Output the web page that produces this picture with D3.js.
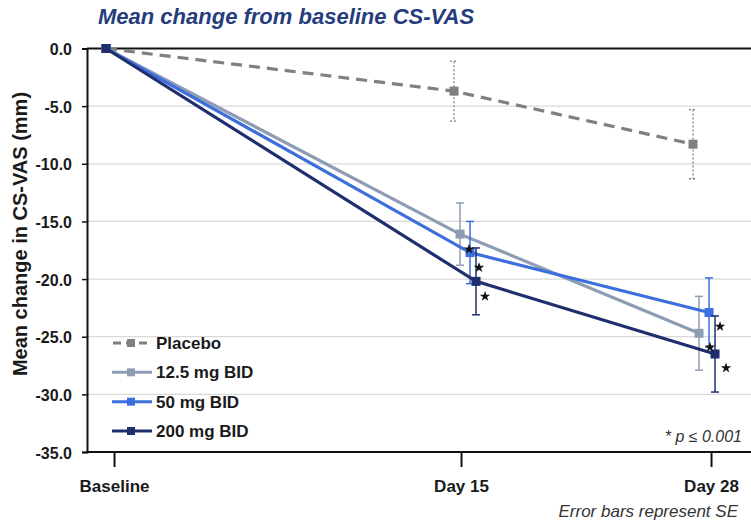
<!DOCTYPE html>
<html>
<head>
<meta charset="utf-8">
<script src="https://cdn.jsdelivr.net/npm/d3@7/dist/d3.min.js"></script>
<style>
  html, body { margin: 0; padding: 0; background: #fff; }
  svg { display: block; font-family: "Liberation Sans", Arial, sans-serif; }
  .ttl { font-size: 22px; font-weight: bold; font-style: italic; fill: #263d7c; }
  .ylab { font-size: 20px; font-weight: bold; fill: #1a1a1a; }
  .yax text { font-size: 16px; font-weight: bold; fill: #1a1a1a; }
  .xax text { font-size: 17px; font-weight: bold; fill: #1a1a1a; }
  .leg text { font-size: 17px; font-weight: bold; fill: #1a1a1a; }
  .note { font-size: 16px; font-style: italic; fill: #333; }
</style>
</head>
<body>
<div id="chart"></div>
<script>
const W = 751, H = 525;
const M = { top: 48.5, right: 0, bottom: 73, left: 87 };

// data
const VISITS = ["Baseline", "Day 15", "Day 28"];
const SERIES = ["Placebo", "12.5 mg BID", "50 mg BID", "200 mg BID"];
const PLACEBO = [0, -3.7, -8.3];
const PLACEBO_SE = [0, 2.6, 3.0];
const LOW = [0, -16.1, -24.7];
const LOW_SE = [0, 2.7, 3.2];
const MID = [0, -17.7, -22.9];
const MID_SE = [0, 2.7, 3.0];
const HIGH = [0, -20.2, -26.5];
const HIGH_SE = [0, 2.9, 3.3];
const SIG = [false, true, true];   // p <= 0.001 vs placebo (active doses)
const Y_TICKS = [0, -5, -10, -15, -20, -25, -30, -35];

const COLORS = ["#808080", "#8e9db4", "#3d6fdc", "#1f2f6e"];
const VALUES = [PLACEBO, LOW, MID, HIGH];
const ERRS = [PLACEBO_SE, LOW_SE, MID_SE, HIGH_SE];

// horizontal nudges so the markers don't sit on top of each other
const VISIT_SHIFT = [-8, 4, -7];
const DODGE = [-11, -5, 5, 11];
const STAR_OFF = [[0, 0], [9, 15], [11, 14]];

const svg = d3.select("#chart").append("svg").attr("width", W).attr("height", H);

const plotL = M.left, plotR = W - M.right, plotT = M.top, plotB = H - M.bottom;
const plotW = plotR - plotL;

const x = d3.scaleOrdinal().domain(VISITS).range([0.0407, 0.5633, 0.9398].map(f => plotL + f * plotW));
const y = d3.scaleLinear().domain([-35, 0]).range([plotB, plotT]);

const px = (si, vi) => x(VISITS[vi]) + VISIT_SHIFT[vi] + (vi === 0 ? 0 : DODGE[si]);

// title
svg.append("text").attr("class", "ttl").attr("x", 98).attr("y", 24)
  .text("Mean change from baseline CS-VAS");

// gridlines
svg.append("g").selectAll("line").data(Y_TICKS.filter(t => t !== 0 && t !== -35)).join("line")
  .attr("x1", plotL).attr("x2", plotR).attr("y1", d => y(d)).attr("y2", d => y(d))
  .attr("stroke", "#d9d9d9").attr("stroke-width", 1.2);

// frame top
svg.append("line").attr("x1", plotL).attr("x2", plotR).attr("y1", plotT).attr("y2", plotT)
  .attr("stroke", "#111").attr("stroke-width", 2);

// y axis
const yAx = svg.append("g").attr("class", "yax").attr("transform", `translate(${plotL},0)`)
  .call(d3.axisLeft(y).tickValues(Y_TICKS).tickSize(5).tickPadding(10).tickFormat(d => d.toFixed(1)));
yAx.select(".domain").attr("stroke", "#111").attr("stroke-width", 2);
yAx.selectAll(".tick line").attr("stroke", "#111").attr("stroke-width", 1.5);
yAx.selectAll(".tick text").attr("dy", "0.38em");

// x axis
const xAx = svg.append("g").attr("class", "xax").attr("transform", `translate(0,${plotB})`)
  .call(d3.axisBottom(x).tickSize(15).tickPadding(13));
xAx.select(".domain").remove();
xAx.selectAll(".tick line").attr("stroke", "#111").attr("stroke-width", 2);
svg.append("line").attr("x1", plotL - 1).attr("x2", plotR).attr("y1", plotB).attr("y2", plotB)
  .attr("stroke", "#111").attr("stroke-width", 2);

// y label
svg.append("text").attr("class", "ylab")
  .attr("transform", `translate(27,234) rotate(-90)`)
  .attr("text-anchor", "middle").text("Mean change in CS-VAS (mm)");

// series
const line = d3.line();
const starLayer = [];
SERIES.forEach((name, si) => {
  const vals = VALUES[si], errs = ERRS[si];
  const pts = vals.map((v, vi) => [px(si, vi), y(v)]);
  const g = svg.append("g").attr("class", "series");
  const dashed = si === 0;

  // error bars
  const eb = g.selectAll("g.eb").data(vals.map((v, vi) => ({ v, e: errs[vi], vi })).filter(d => d.e > 0))
    .join("g").attr("class", "eb")
    .attr("stroke", COLORS[si]).attr("stroke-width", dashed ? 1.3 : 1.5)
    .attr("stroke-dasharray", dashed ? "2,2" : null);
  eb.append("line").attr("x1", d => px(si, d.vi)).attr("x2", d => px(si, d.vi))
    .attr("y1", d => y(d.v + d.e)).attr("y2", d => y(d.v - d.e));
  [1, -1].forEach(s => eb.append("line")
    .attr("x1", d => px(si, d.vi) - 4).attr("x2", d => px(si, d.vi) + 4)
    .attr("y1", d => y(d.v + s * d.e)).attr("y2", d => y(d.v + s * d.e)));

  g.append("path").attr("d", line(pts)).attr("fill", "none")
    .attr("stroke", COLORS[si]).attr("stroke-width", 3.2)
    .attr("stroke-dasharray", dashed ? "11,7" : null);

  g.selectAll("rect").data(pts).join("rect")
    .attr("x", d => d[0] - 4.5).attr("y", d => d[1] - 4.5)
    .attr("width", 9).attr("height", 9).attr("fill", COLORS[si]);

  if (si > 0) vals.forEach((v, vi) => { if (SIG[vi]) starLayer.push({ si, vi, v }); });
});

// significance stars drawn above all lines
svg.append("g").selectAll("path").data(starLayer).join("path")
  .attr("transform", d => `translate(${px(d.si, d.vi) + STAR_OFF[d.vi][0]},${y(d.v) + STAR_OFF[d.vi][1]})`)
  .attr("d", d3.symbol(d3.symbolStar, 34)).attr("fill", "#111");

// legend
const leg = svg.append("g").attr("class", "leg");
const legY = d3.scalePoint().domain(SERIES).range([343, 431]);
SERIES.forEach((name, si) => {
  const ly = legY(name);
  leg.append("line").attr("x1", si === 0 ? 113 : 112).attr("x2", si === 0 ? 149 : 152)
    .attr("y1", ly).attr("y2", ly).attr("stroke", COLORS[si]).attr("stroke-width", 3)
    .attr("stroke-dasharray", si === 0 ? "8,5" : null);
  leg.append("rect").attr("x", 127).attr("y", ly - 4).attr("width", 8).attr("height", 8).attr("fill", COLORS[si]);
  leg.append("text").attr("x", 156).attr("y", ly).attr("dy", "0.36em").text(name);
});

// notes
svg.append("text").attr("class", "note").attr("x", 742).attr("y", 442).attr("text-anchor", "end")
  .text("* p \u2264 0.001");
svg.append("text").attr("class", "note").attr("x", 738).attr("y", 517).attr("text-anchor", "end")
  .style("font-size", "17px").text("Error bars represent SE");
</script>
</body>
</html>
